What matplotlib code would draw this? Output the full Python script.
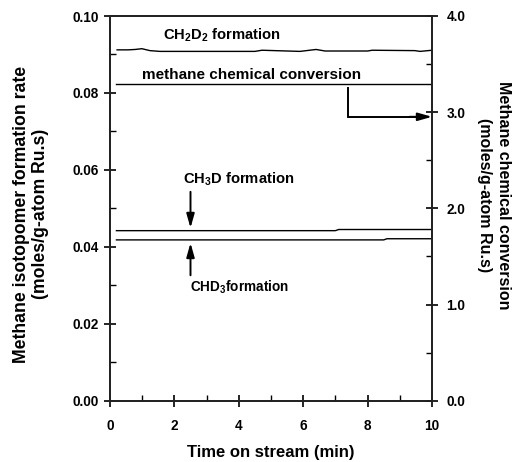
import numpy as np
from matplotlib import pyplot as plt
from matplotlib.ticker import MultipleLocator

plt.rcParams['font.family'] = ['Liberation Sans', 'DejaVu Sans']
plt.rcParams['font.weight'] = 'bold'
plt.rcParams['mathtext.fontset'] = 'custom'
plt.rcParams['mathtext.rm'] = 'Liberation Sans:bold'
plt.rcParams['mathtext.default'] = 'rm'

# CH2D2 formation rate (moles/g-atom Ru.s)
t_ch2d2 = [0.22, 0.56, 0.78, 0.99, 1.24, 1.55, 2.8, 4.5, 4.72, 5.9, 6.2, 6.4, 6.68, 8.0, 8.14, 9.47, 9.63, 9.88, 10.0]
r_ch2d2 = [0.0912, 0.0912, 0.0913, 0.0915, 0.0910, 0.0908, 0.0908, 0.0908, 0.0911, 0.0908, 0.0911, 0.0913, 0.0909,
           0.0909, 0.0911, 0.0910, 0.0908, 0.0910, 0.0911]

# CH3D and CHD3 formation rates
t_ch3d = [0.2, 7.0, 7.1, 10.0]
r_ch3d = [0.0442, 0.0442, 0.0445, 0.0445]
t_chd3 = [0.2, 8.5, 8.6, 10.0]
r_chd3 = [0.0418, 0.0418, 0.0421, 0.0421]

# methane chemical conversion (right axis)
t_conv = [0.19, 10.0]
conv = [3.29, 3.29]

W, H = 517, 462
fig = plt.figure(figsize=(W/100, H/100), dpi=100)
ax = fig.add_axes([110/W, 1-400.7/H, 322/W, 384.7/H])
ax2 = ax.twinx()

lw = 1.0
ax.plot(t_ch2d2, r_ch2d2, color='black', lw=lw)
ax.plot(t_ch3d, r_ch3d, color='black', lw=lw)
ax.plot(t_chd3, r_chd3, color='black', lw=lw)
ax2.plot(t_conv, conv, color='black', lw=lw)

ax.set_xlim(0, 10)
ax.set_ylim(0, 0.10)
ax2.set_ylim(0, 4.0)

ax.xaxis.set_major_locator(MultipleLocator(2))
ax.xaxis.set_minor_locator(MultipleLocator(1))
ax.yaxis.set_major_locator(MultipleLocator(0.02))
ax.yaxis.set_minor_locator(MultipleLocator(0.01))
ax2.yaxis.set_major_locator(MultipleLocator(1.0))
ax2.yaxis.set_minor_locator(MultipleLocator(0.5))
ax.xaxis.set_major_formatter(plt.FuncFormatter(lambda v, p: '%d' % v))
ax.yaxis.set_major_formatter(plt.FuncFormatter(lambda v, p: '%.2f' % v))
ax2.yaxis.set_major_formatter(plt.FuncFormatter(lambda v, p: '%.1f' % v))

for a in (ax, ax2):
    for s in a.spines.values():
        s.set_linewidth(1.3)
        s.set_color('#222222')
ax.tick_params(axis='both', which='major', direction='inout', length=8, width=1.2, labelsize=9.8)
ax.tick_params(axis='x', which='major', pad=9)
ax.tick_params(axis='y', which='major', pad=4)
ax.tick_params(axis='both', which='minor', direction='in', length=4, width=1.0)
ax.tick_params(top=False, which='both')
ax2.tick_params(axis='y', which='major', direction='inout', length=8, width=1.2, labelsize=9.8, pad=6.5)
ax2.tick_params(axis='y', which='minor', direction='in', length=4, width=1.0)

# axis titles
fig.text(271/W, 1-452/H, 'Time on stream (min)', fontsize=12, fontweight='bold', ha='center', va='center')
fig.text(31/W, 1-214/H, 'Methane isotopomer formation rate\n(moles/g-atom Ru.s)', fontsize=12.7,
         fontweight='bold', rotation=90, ha='center', va='center', linespacing=1.2, multialignment='center')
fig.text(494/W, 1-195/H, 'Methane chemical conversion\n(moles/g-atom Ru.s)', fontsize=11.5,
         fontweight='bold', rotation=270, ha='center', va='center', linespacing=1.35, multialignment='center')

# labels and arrows
arrow = dict(arrowstyle='-|>,head_length=0.6,head_width=0.17', color='black', lw=1.4,
             mutation_scale=14, shrinkA=0, shrinkB=0)
ax.text(1.65, 0.0950, r'CH$_2$D$_2$ formation', fontsize=10.6, fontweight='bold', va='center')
ax.text(1.0, 0.0847, 'methane chemical conversion', fontsize=11, fontweight='bold', va='center')
ax.plot([7.39, 7.39, 9.5], [0.0813, 0.0738, 0.0738], color='black', lw=1.4, solid_joinstyle='miter')
ax.annotate('', xy=(10.0, 0.0738), xytext=(9.3, 0.0738), arrowprops=arrow)

ax.text(2.27, 0.0576, r'CH$_3$D formation', fontsize=10.6, fontweight='bold', va='center')
ax.annotate('', xy=(2.5, 0.0449), xytext=(2.5, 0.0543), arrowprops=arrow)
ax.text(2.48, 0.0295, r'CHD$_3$formation', fontsize=9.8, fontweight='bold', va='center')
ax.annotate('', xy=(2.5, 0.0410), xytext=(2.5, 0.0326), arrowprops=arrow)

fig.savefig('out.png', dpi=100)
